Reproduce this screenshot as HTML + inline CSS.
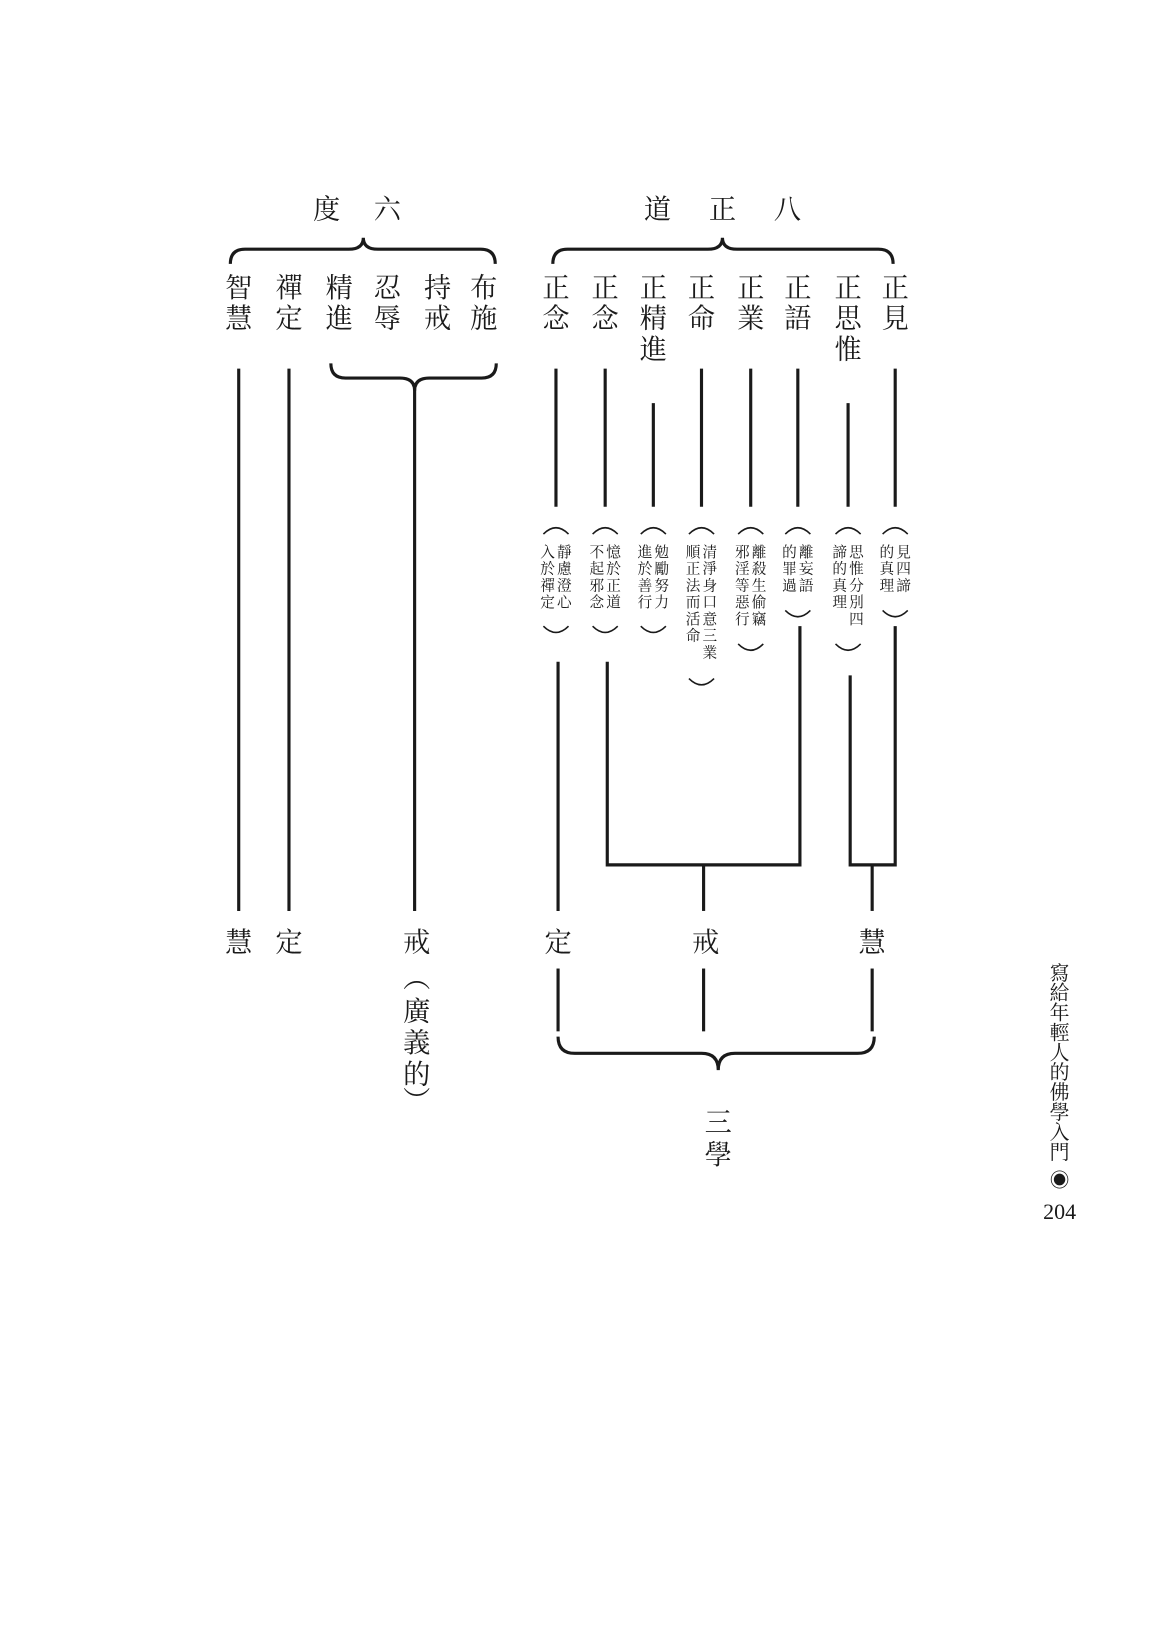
<!DOCTYPE html>
<html><head><meta charset="utf-8"><style>
html,body{margin:0;padding:0;background:#fff;}
svg{display:block}
text{font-family:"Liberation Serif","Noto Serif CJK SC","Noto Serif CJK TC",serif;fill:#1a1a1a;text-anchor:middle;dominant-baseline:central}
.b{font-size:26px}
.s{font-size:14px}
</style></head><body>
<svg width="1158" height="1646" viewBox="0 0 1106 1572" xmlns="http://www.w3.org/2000/svg">
<g stroke="#1a1a1a" stroke-width="3" fill="none">
<!-- top braces -->
<path d="M220 252 Q220 238 234 238 L333 238 Q347 238 347 227 Q347 238 361 238 L459 238 Q473 238 473 252"/>
<path d="M528 252 Q528 238 542 238 L676 238 Q690 238 690 227 Q690 238 704 238 L839 238 Q853 238 853 252"/>
<!-- lower brace left -->
<path d="M316 347 Q316 361 330 361 L382 361 Q396 361 396 373 Q396 361 410 361 L460 361 Q474 361 474 347"/>
<!-- left lines -->
<line x1="228" y1="352" x2="228" y2="870"/>
<line x1="276" y1="352" x2="276" y2="870"/>
<line x1="396" y1="372" x2="396" y2="870"/>
<!-- right top lines -->
<line x1="531" y1="352" x2="531" y2="484"/>
<line x1="578" y1="352" x2="578" y2="484"/>
<line x1="624" y1="385" x2="624" y2="484"/>
<line x1="670" y1="352" x2="670" y2="484"/>
<line x1="717" y1="352" x2="717" y2="484"/>
<line x1="762" y1="352" x2="762" y2="484"/>
<line x1="810" y1="385" x2="810" y2="484"/>
<line x1="855" y1="352" x2="855" y2="484"/>
<!-- right bottom lines -->
<line x1="533" y1="632" x2="533" y2="870"/>
<path d="M580 632 L580 826 L764 826 L764 598"/>
<line x1="672" y1="826" x2="672" y2="870"/>
<path d="M812 645 L812 826 L855 826 L855 598"/>
<line x1="833" y1="826" x2="833" y2="870"/>
<line x1="533" y1="925" x2="533" y2="985"/>
<line x1="672" y1="925" x2="672" y2="985"/>
<line x1="833" y1="925" x2="833" y2="985"/>
<path d="M533 990 Q533 1006 549 1006 L670 1006 Q686 1006 686 1022 Q686 1006 702 1006 L819 1006 Q835 1006 835 990"/>
</g>
<g stroke="#1a1a1a" stroke-width="1.5" fill="none">
<!-- paren arcs: top and bottom per box -->
<path d="M519 510 Q531 498 543 510"/><path d="M519 598 Q531 610 543 598"/>
<path d="M566 510 Q578 498 590 510"/><path d="M566 598 Q578 610 590 598"/>
<path d="M612 510 Q624 498 636 510"/><path d="M612 598 Q624 610 636 598"/>
<path d="M658 510 Q670 498 682 510"/><path d="M658 648 Q670 660 682 648"/>
<path d="M705 510 Q717 498 729 510"/><path d="M705 615 Q717 627 729 615"/>
<path d="M750 510 Q762 498 774 510"/><path d="M750 583 Q762 595 774 583"/>
<path d="M798 510 Q810 498 822 510"/><path d="M798 615 Q810 627 822 615"/>
<path d="M843 510 Q855 498 867 510"/><path d="M843 583 Q855 595 867 583"/>
</g>
<!-- titles -->
<g class="b">
<text x="312" y="200">度</text><text x="370" y="200">六</text>
<text x="628" y="200">道</text><text x="690" y="200">正</text><text x="752" y="200">八</text>
<!-- column labels -->
<text x="228" y="275">智</text><text x="228" y="304">慧</text>
<text x="276" y="275">禪</text><text x="276" y="304">定</text>
<text x="324" y="275">精</text><text x="324" y="304">進</text>
<text x="370" y="275">忍</text><text x="370" y="304">辱</text>
<text x="418" y="275">持</text><text x="418" y="304">戒</text>
<text x="462" y="275">布</text><text x="462" y="304">施</text>
<text x="531" y="275">正</text><text x="531" y="304">念</text>
<text x="578" y="275">正</text><text x="578" y="304">念</text>
<text x="624" y="275">正</text><text x="624" y="304">精</text><text x="624" y="334">進</text>
<text x="670" y="275">正</text><text x="670" y="304">命</text>
<text x="717" y="275">正</text><text x="717" y="304">業</text>
<text x="762" y="275">正</text><text x="762" y="304">語</text>
<text x="810" y="275">正</text><text x="810" y="304">思</text><text x="810" y="334">惟</text>
<text x="855" y="275">正</text><text x="855" y="304">見</text>
<!-- bottom labels -->
<text x="228" y="900">慧</text><text x="276" y="900">定</text><text x="398" y="900">戒</text>
<text x="533" y="900">定</text><text x="674" y="900">戒</text><text x="833" y="900">慧</text>
<text x="398" y="934">︵</text><text x="398" y="966">廣</text><text x="398" y="996">義</text><text x="398" y="1026">的</text><text x="398" y="1052">︶</text>
<text x="686" y="1072">三</text><text x="686" y="1103">學</text>
</g>
<!-- small parenthetical text -->
<g class="s">
<text x="539" y="528">靜</text><text x="539" y="544">慮</text><text x="539" y="560">澄</text><text x="539" y="576">心</text>
<text x="523" y="528">入</text><text x="523" y="544">於</text><text x="523" y="560">禪</text><text x="523" y="576">定</text>
<text x="586" y="528">憶</text><text x="586" y="544">於</text><text x="586" y="560">正</text><text x="586" y="576">道</text>
<text x="570" y="528">不</text><text x="570" y="544">起</text><text x="570" y="560">邪</text><text x="570" y="576">念</text>
<text x="632" y="528">勉</text><text x="632" y="544">勵</text><text x="632" y="560">努</text><text x="632" y="576">力</text>
<text x="616" y="528">進</text><text x="616" y="544">於</text><text x="616" y="560">善</text><text x="616" y="576">行</text>
<text x="678" y="528">清</text><text x="678" y="544">淨</text><text x="678" y="560">身</text><text x="678" y="576">口</text><text x="678" y="592">意</text><text x="678" y="608">三</text><text x="678" y="624">業</text>
<text x="662" y="528">順</text><text x="662" y="544">正</text><text x="662" y="560">法</text><text x="662" y="576">而</text><text x="662" y="592">活</text><text x="662" y="608">命</text>
<text x="725" y="528">離</text><text x="725" y="544">殺</text><text x="725" y="560">生</text><text x="725" y="576">偷</text><text x="725" y="592">竊</text>
<text x="709" y="528">邪</text><text x="709" y="544">淫</text><text x="709" y="560">等</text><text x="709" y="576">惡</text><text x="709" y="592">行</text>
<text x="770" y="528">離</text><text x="770" y="544">妄</text><text x="770" y="560">語</text>
<text x="754" y="528">的</text><text x="754" y="544">罪</text><text x="754" y="560">過</text>
<text x="818" y="528">思</text><text x="818" y="544">惟</text><text x="818" y="560">分</text><text x="818" y="576">別</text><text x="818" y="592">四</text>
<text x="802" y="528">諦</text><text x="802" y="544">的</text><text x="802" y="560">真</text><text x="802" y="576">理</text>
<text x="863" y="528">見</text><text x="863" y="544">四</text><text x="863" y="560">諦</text>
<text x="847" y="528">的</text><text x="847" y="544">真</text><text x="847" y="560">理</text>
</g>
<!-- side running title -->
<g style="font-size:19px">
<text x="1012" y="930">寫</text><text x="1012" y="949">給</text><text x="1012" y="968">年</text><text x="1012" y="987">輕</text><text x="1012" y="1006">人</text><text x="1012" y="1025">的</text><text x="1012" y="1044">佛</text><text x="1012" y="1063">學</text><text x="1012" y="1082">入</text><text x="1012" y="1101">門</text>
<text x="1012" y="1128">◉</text>
<text x="1012" y="1157" style="font-size:21px">204</text>
</g>
</svg>
</body></html>
